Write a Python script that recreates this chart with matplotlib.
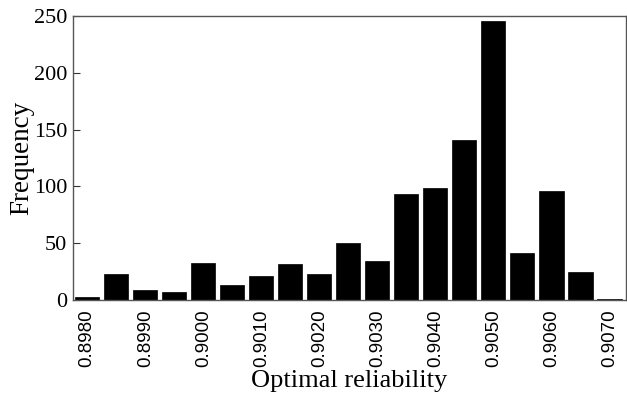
import numpy as np
import matplotlib
matplotlib.use("Agg")
import matplotlib.pyplot as plt

# bin centres and counts
centers = np.round(np.arange(0.8980, 0.90701, 0.0005), 4)
counts = [3, 23, 9, 7, 33, 13, 21, 32, 23, 50,
          34, 93, 99, 141, 246, 41, 96, 25, 1]
tick_vals = np.round(np.arange(0.8980, 0.90701, 0.0010), 4)
tick_labels = ["%.4f" % t for t in tick_vals]

fig = plt.figure(figsize=(6.27, 3.95), dpi=100)
ax = fig.add_axes([0.116, 0.2405, 0.882, 0.719])

ax.bar(centers, counts, width=0.0005 * 0.83, color="black", edgecolor="black",
       linewidth=0.5)

ax.set_xlim(0.89775, 0.90728)
ax.set_ylim(0, 250)
ax.set_yticks([0, 50, 100, 150, 200, 250])
ax.set_xticks(tick_vals)
ax.set_xticklabels(tick_labels, rotation=90, family="Liberation Sans", fontsize=13.5)
for lab in ax.get_yticklabels():
    lab.set_family("Liberation Serif")
    lab.set_fontsize(16)
ax.tick_params(direction="in", length=5, width=0.8, colors="#333333")
ax.tick_params(labelcolor="black")
ax.tick_params(axis="y", pad=4)
ax.tick_params(axis="x", length=0, pad=7)

for s in ax.spines.values():
    s.set_color("#555555")
    s.set_linewidth(1.0)

ax.set_xlabel("Optimal reliability", family="Liberation Serif", fontsize=19, labelpad=2)
ax.set_ylabel("Frequency", family="Liberation Serif", fontsize=19.5, labelpad=0)

fig.savefig("out.png", dpi=100)
